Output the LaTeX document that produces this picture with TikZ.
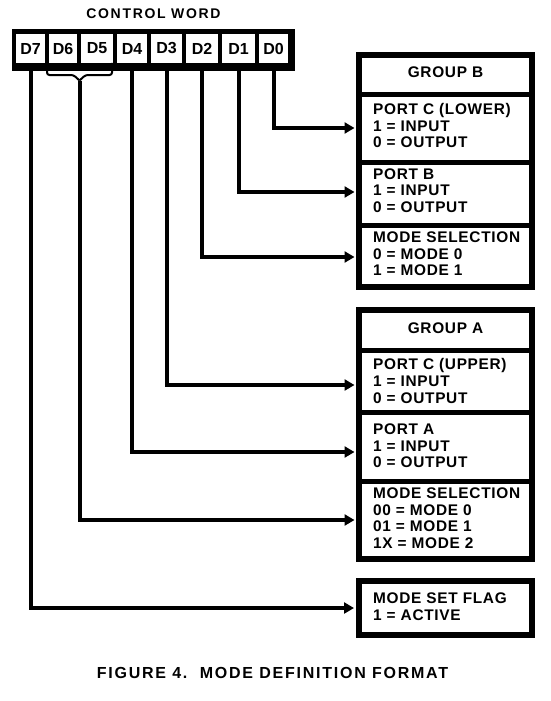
\documentclass[tikz,border=0pt]{standalone}
\usepackage{fontspec}
\setmainfont{Liberation Sans}
\newfontfamily\boxfont{Liberation Sans}[LetterSpace=4.5]
\newfontfamily\capfont{Liberation Sans}[LetterSpace=11]
\newfontfamily\cwfont{Liberation Sans}[LetterSpace=12]
\usetikzlibrary{arrows.meta}
\begin{document}
\begin{tikzpicture}[x=1pt,y=-1pt,
  conn/.style={line width=4pt,-{Triangle[length=10pt,width=11pt]},shorten >=2pt},
  sect/.style={draw,line width=5pt,rectangle,minimum width=173pt,inner sep=0pt},
  txt/.style={anchor=west,inner sep=0pt,align=left,font=\boxfont\bfseries\fontsize{15.4}{16.6}\selectfont},
  head/.style={inner sep=0pt,font=\boxfont\bfseries\fontsize{15.4}{16.6}\selectfont},
  grp/.style={draw,line width=6pt,rectangle,minimum width=173pt,inner sep=0pt},
  cell/.style={fill=white,rectangle,minimum width=#1,minimum height=29pt,inner sep=0pt,
    font=\bfseries\fontsize{16}{16}\selectfont},
  brk/.style={line width=2pt,rounded corners=2.5pt}
]
\useasboundingbox (0,0) rectangle (550,701);

% control word
\node[font=\cwfont\bfseries\fontsize{14}{14}\selectfont] (cw) at (153.5,14) {CONTROL WORD};
\fill (12,29) rectangle (295,71);
\node[cell=29pt] (d7) at (30.5,48.5) {D7};
\node[cell=28pt] (d6) at (63,48.5) {D6};
\node[cell=32pt] (d5) at (97,48.5) {D5};
\node[cell=30pt] (d4) at (132,48.5) {D4};
\node[cell=31pt] (d3) at (166.5,48.5) {D3};
\node[cell=32pt] (d2) at (202,48.5) {D2};
\node[cell=33pt] (d1) at (238.5,48.5) {D1};
\node[cell=29pt] (d0) at (273.5,48.5) {D0};

% bracket under D6 D5
\coordinate (bk) at (79.5,80.5);
\draw[brk] (47,63) -- (47,75) -- (73.5,75) -- (bk);
\draw[brk] (112,63) -- (112,75) -- (85.5,75) -- (bk);

% group B
\node[grp,minimum height=232pt] (gB) at (445.5,171) {};
\node[sect,minimum height=39pt] (hB) at (445.5,74.5) {};
\node[sect,minimum height=68pt] (pcB) at (445.5,128) {};
\node[sect,minimum height=63pt] (pbB) at (445.5,193.5) {};
\node[sect,minimum height=62pt] (msB) at (445.5,256) {};
\node[head] (thB) at (445.5,72) {GROUP B};
\node[txt] (tpcB) at (373,125.5) {PORT C (LOWER)\\1 = INPUT\\0 = OUTPUT};
\node[txt] (tpbB) at (373,190.5) {PORT B\\1 = INPUT\\0 = OUTPUT};
\node[txt] (tmsB) at (373,254) {MODE SELECTION\\0 = MODE 0\\1 = MODE 1};

% group A
\node[grp,minimum height=249pt] (gA) at (445.5,434.5) {};
\node[sect,minimum height=40pt] (hA) at (445.5,330) {};
\node[sect,minimum height=62pt] (pcA) at (445.5,381) {};
\node[sect,minimum height=69pt] (paA) at (445.5,446.5) {};
\node[sect,minimum height=78pt] (msA) at (445.5,520) {};
\node[head] (thA) at (445.5,328) {GROUP A};
\node[txt] (tpcA) at (373,381) {PORT C (UPPER)\\1 = INPUT\\0 = OUTPUT};
\node[txt] (tpaA) at (373,446) {PORT A\\1 = INPUT\\0 = OUTPUT};
\node[txt] (tmsA) at (373,518) {MODE SELECTION\\00 = MODE 0\\01 = MODE 1\\1X = MODE 2};

% mode set flag
\node[sect,line width=6pt,minimum height=54pt] (flag) at (445.5,608) {};
\node[txt] (tflag) at (373,606.5) {MODE SET FLAG\\1 = ACTIVE};

% connectors
\draw[conn] (d0.south) |- (pcB.west);
\draw[conn] (d1.south) |- ([yshift=1.5pt]pbB.west);
\draw[conn] (d2.south) |- ([yshift=-1pt]msB.west);
\draw[conn] (d3.south) |- ([yshift=-4pt]pcA.west);
\draw[conn] (d4.south) |- ([yshift=-5.5pt]paA.west);
\draw[conn] (bk) |- (msA.west);
\draw[conn] (d7.south) |- (flag.west);

% caption
\node[font=\capfont\bfseries\fontsize{16}{16}\selectfont] (cap) at (272.5,673) {FIGURE 4.\ \ MODE DEFINITION FORMAT};
\end{tikzpicture}
\end{document}
